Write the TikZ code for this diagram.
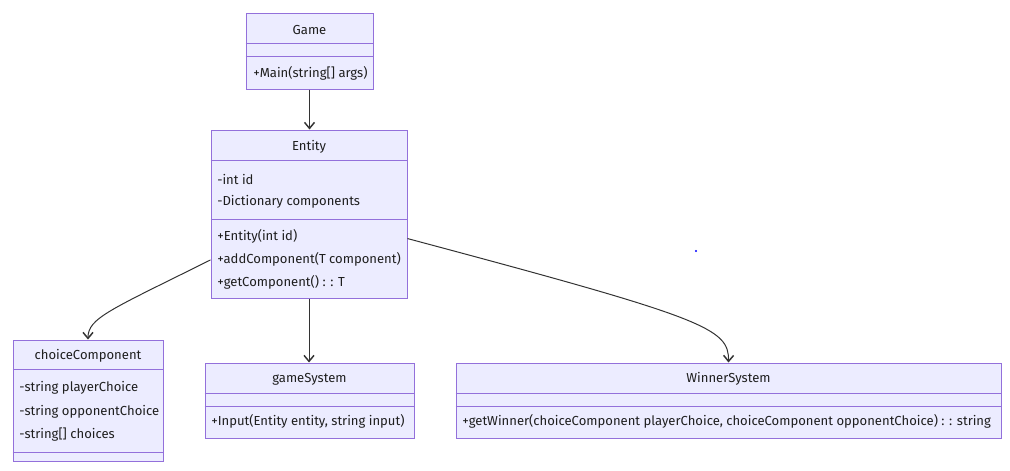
\documentclass[tikz,border=0pt]{standalone}
\usepackage{fontspec}
\setmainfont{Fira Sans}
\usetikzlibrary{arrows.meta}
\definecolor{classfill}{HTML}{ECECFF}
\definecolor{classline}{HTML}{9370DB}
\definecolor{linkgray}{HTML}{333333}

\begin{document}
\begin{tikzpicture}[x=0.75pt, y=-0.75pt,
    box/.style={draw=classline, fill=classfill, line width=0.75pt, inner sep=0pt},
    rule/.style={draw=classline, line width=0.75pt},
    title/.style={font=\fontsize{9.8}{12}\selectfont, text=black!88},
    member/.style={anchor=west, inner sep=0pt, font=\fontsize{9.8}{12}\selectfont, text=black!88},
    dep/.style={draw=linkgray, line width=0.75pt, -{Straight Barb[length=4.5pt, width=7.5pt, line width=1.1pt]}}]
    \useasboundingbox (0,0) rectangle (1010,471);

    % Game
    \node[box, minimum width=95.25pt, minimum height=57pt] (game) at (309.5,51) {};
    \draw[rule] (game.west |- 0,43) -- (game.east |- 0,43);
    \draw[rule] (game.west |- 0,56) -- (game.east |- 0,56);
    \node[title] (gameT) at (309.5,30) {Game};
    \node[member] (gameM1) at (253,73) {+Main(string[] args)};

    % Entity
    \node[box, minimum width=147pt, minimum height=126pt] (entity) at (309,214) {};
    \draw[rule] (entity.west |- 0,160) -- (entity.east |- 0,160);
    \draw[rule] (entity.west |- 0,219) -- (entity.east |- 0,219);
    \node[title] (entityT) at (309,147) {Entity};
    \node[member] (entityA1) at (217,179) {-int id};
    \node[member] (entityA2) at (217,202) {-Dictionary components};
    \node[member] (entityM1) at (217,236) {+Entity(int id)};
    \node[member] (entityM2) at (217,259) {+addComponent(T component)};
    \node[member] (entityM3) at (217,282) {+getComponent() : : T};

    % choiceComponent
    \node[box, minimum width=112.5pt, minimum height=90.75pt] (choice) at (88,400.5) {};
    \draw[rule] (choice.west |- 0,369) -- (choice.east |- 0,369);
    \draw[rule] (choice.west |- 0,452) -- (choice.east |- 0,452);
    \node[title] (choiceT) at (88,356) {choiceComponent};
    \node[member] (choiceA1) at (19,388) {-string playerChoice};
    \node[member] (choiceA2) at (19,412) {-string opponentChoice};
    \node[member] (choiceA3) at (19,435) {-string[] choices};

    % gameSystem
    \node[box, minimum width=156.75pt, minimum height=56.25pt] (gamesys) at (309.5,400.5) {};
    \draw[rule] (gamesys.west |- 0,393) -- (gamesys.east |- 0,393);
    \draw[rule] (gamesys.west |- 0,406) -- (gamesys.east |- 0,406);
    \node[title] (gamesysT) at (309.5,379) {gameSystem};
    \node[member] (gamesysM1) at (211,421) {+Input(Entity entity, string input)};

    % WinnerSystem
    \node[box, minimum width=408.75pt, minimum height=56.25pt] (winner) at (728.5,400.5) {};
    \draw[rule] (winner.west |- 0,393) -- (winner.east |- 0,393);
    \draw[rule] (winner.west |- 0,406) -- (winner.east |- 0,406);
    \node[title] (winnerT) at (728.5,379) {WinnerSystem};
    \node[member] (winnerM1) at (462,421) {+getWinner(choiceComponent playerChoice, choiceComponent opponentChoice) : : string};

    % links
    \draw[dep] (game.south) -- (game.south |- entity.north);
    \draw[dep] (entity.205.6) .. controls (110,310) and (88,318) .. (choice.north);
    \draw[dep] (entity.south) -- (entity.south |- gamesys.north);
    \draw[dep] (entity.-14.3) .. controls (705,318) and (729,328) .. (winner.north);

    \fill[blue] (696,251) circle (0.9pt);
\end{tikzpicture}
\end{document}
